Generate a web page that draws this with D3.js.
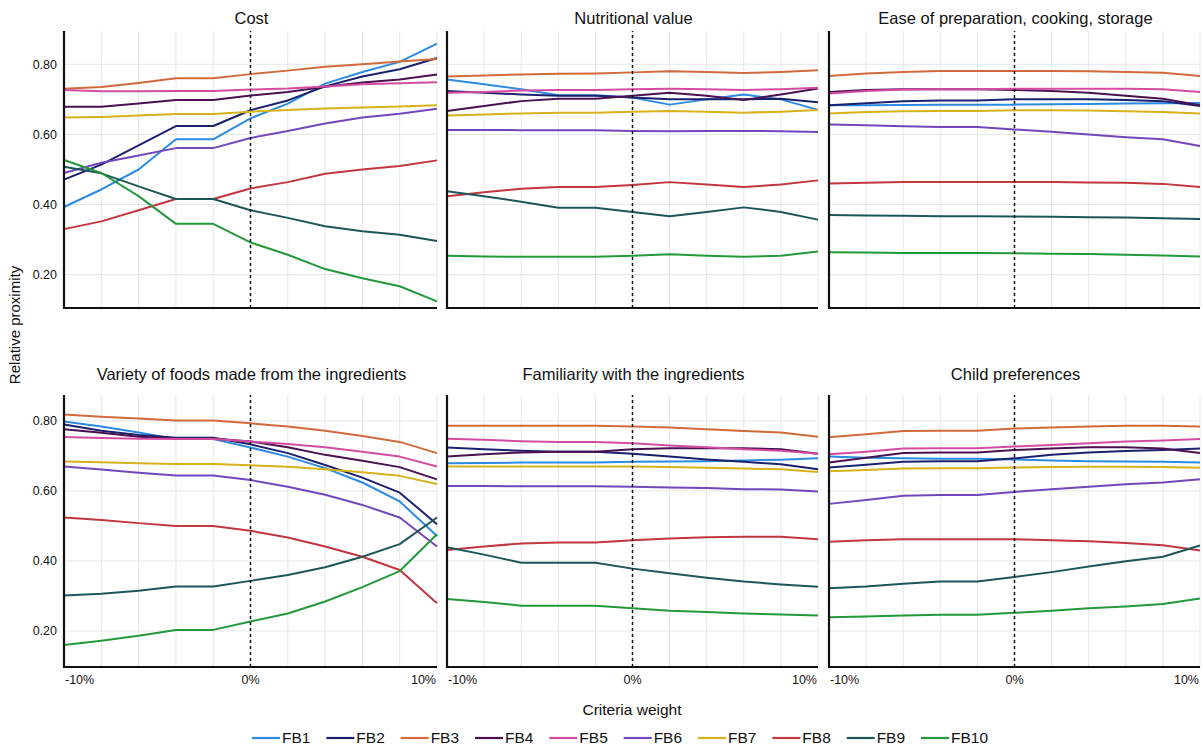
<!DOCTYPE html>
<html><head><meta charset="utf-8">
<script src="https://cdn.jsdelivr.net/npm/d3@7"></script>
<style>
body{margin:0;background:#fff;}
text{font-family:"Liberation Sans",Arial,sans-serif;fill:#111;}
</style></head>
<body><svg id="chart" width="1203" height="749"></svg>
<script>
const weights = [-10,-8,-6,-4,-2,0,2,4,6,8,10];
const series = ["FB1","FB2","FB3","FB4","FB5","FB6","FB7","FB8","FB9","FB10"];
const colors = ["#2b8be0","#1b216e","#d2693b","#4a1152","#d34ca2","#7347bb","#d6b21c","#c1363f","#1d5659","#23993b"];
const titles = ["Cost","Nutritional value","Ease of preparation, cooking, storage",
  "Variety of foods made from the ingredients","Familiarity with the ingredients","Child preferences"];
const xTickLabels = ["-10%","0%","10%"];
const yTicks = [0.2,0.4,0.6,0.8];

// values per criterion, rows FB1..FB10, columns = weights
const cost = [
 [0.393,0.443,0.50,0.586,0.586,0.646,0.688,0.745,0.778,0.807,0.859],
 [0.471,0.514,0.569,0.624,0.624,0.669,0.697,0.737,0.765,0.786,0.818],
 [0.73,0.735,0.747,0.76,0.76,0.772,0.782,0.793,0.80,0.808,0.815],
 [0.679,0.679,0.688,0.698,0.698,0.711,0.721,0.736,0.748,0.757,0.771],
 [0.727,0.723,0.723,0.724,0.724,0.728,0.731,0.737,0.743,0.746,0.749],
 [0.49,0.519,0.54,0.561,0.561,0.59,0.61,0.631,0.648,0.659,0.673],
 [0.648,0.65,0.654,0.658,0.658,0.665,0.67,0.674,0.677,0.68,0.683],
 [0.33,0.352,0.384,0.416,0.416,0.446,0.464,0.488,0.50,0.51,0.526],
 [0.508,0.489,0.452,0.416,0.416,0.384,0.362,0.338,0.324,0.314,0.296],
 [0.527,0.49,0.424,0.345,0.345,0.292,0.257,0.216,0.19,0.167,0.124]
];
const nutrition = [
 [0.757,0.743,0.729,0.712,0.712,0.705,0.685,0.70,0.714,0.70,0.67],
 [0.724,0.719,0.714,0.71,0.71,0.705,0.70,0.70,0.70,0.702,0.692],
 [0.765,0.768,0.771,0.773,0.774,0.777,0.78,0.778,0.775,0.778,0.783],
 [0.667,0.681,0.695,0.702,0.702,0.71,0.719,0.71,0.698,0.714,0.731],
 [0.719,0.721,0.725,0.727,0.727,0.729,0.73,0.729,0.727,0.729,0.733],
 [0.613,0.613,0.612,0.612,0.612,0.61,0.609,0.61,0.61,0.609,0.607],
 [0.654,0.657,0.66,0.662,0.662,0.665,0.667,0.665,0.662,0.665,0.67],
 [0.424,0.435,0.445,0.45,0.45,0.456,0.464,0.457,0.45,0.457,0.469],
 [0.438,0.424,0.408,0.391,0.391,0.379,0.367,0.379,0.392,0.379,0.357],
 [0.254,0.252,0.251,0.251,0.251,0.254,0.258,0.254,0.251,0.254,0.266]
];
const ease = [
 [0.683,0.683,0.684,0.685,0.685,0.685,0.686,0.687,0.688,0.689,0.69],
 [0.683,0.689,0.695,0.697,0.697,0.70,0.70,0.70,0.698,0.695,0.681],
 [0.767,0.774,0.778,0.781,0.781,0.781,0.781,0.78,0.778,0.776,0.767],
 [0.721,0.727,0.729,0.729,0.729,0.727,0.724,0.719,0.71,0.702,0.683],
 [0.717,0.724,0.728,0.729,0.729,0.73,0.73,0.73,0.73,0.729,0.721],
 [0.628,0.626,0.623,0.621,0.621,0.614,0.608,0.60,0.592,0.586,0.567],
 [0.66,0.664,0.666,0.667,0.667,0.669,0.669,0.668,0.666,0.664,0.66],
 [0.46,0.462,0.464,0.464,0.464,0.464,0.464,0.463,0.462,0.459,0.45],
 [0.37,0.369,0.368,0.367,0.367,0.366,0.365,0.364,0.363,0.361,0.359],
 [0.264,0.263,0.262,0.262,0.262,0.261,0.26,0.259,0.257,0.255,0.252]
];
const variety = [
 [0.798,0.784,0.767,0.748,0.748,0.724,0.698,0.665,0.624,0.57,0.471],
 [0.79,0.772,0.76,0.752,0.752,0.733,0.708,0.674,0.638,0.595,0.505],
 [0.818,0.812,0.807,0.801,0.801,0.793,0.784,0.772,0.757,0.74,0.708],
 [0.776,0.766,0.755,0.75,0.75,0.741,0.725,0.703,0.686,0.668,0.633],
 [0.754,0.751,0.749,0.748,0.748,0.741,0.734,0.725,0.712,0.698,0.67],
 [0.67,0.661,0.652,0.644,0.644,0.631,0.612,0.589,0.56,0.524,0.441],
 [0.684,0.682,0.679,0.677,0.677,0.673,0.669,0.662,0.653,0.643,0.62],
 [0.524,0.517,0.508,0.50,0.50,0.486,0.467,0.441,0.412,0.374,0.279],
 [0.301,0.306,0.315,0.327,0.327,0.343,0.36,0.382,0.412,0.448,0.524],
 [0.16,0.172,0.186,0.203,0.203,0.227,0.25,0.284,0.325,0.371,0.476]
];
const familiarity = [
 [0.679,0.68,0.681,0.681,0.681,0.683,0.684,0.685,0.687,0.689,0.693],
 [0.724,0.719,0.715,0.712,0.712,0.706,0.698,0.69,0.683,0.676,0.662],
 [0.786,0.786,0.786,0.786,0.786,0.784,0.781,0.776,0.771,0.767,0.755],
 [0.698,0.705,0.71,0.712,0.712,0.719,0.722,0.722,0.722,0.719,0.706],
 [0.749,0.746,0.742,0.74,0.74,0.736,0.73,0.725,0.719,0.715,0.706],
 [0.614,0.614,0.613,0.613,0.613,0.612,0.61,0.608,0.605,0.604,0.598],
 [0.67,0.67,0.67,0.67,0.67,0.67,0.668,0.666,0.664,0.662,0.654],
 [0.431,0.441,0.45,0.453,0.453,0.459,0.464,0.468,0.469,0.469,0.462],
 [0.439,0.418,0.395,0.395,0.395,0.378,0.365,0.352,0.341,0.333,0.326],
 [0.291,0.283,0.272,0.272,0.272,0.265,0.258,0.254,0.25,0.247,0.244]
];
const child = [
 [0.698,0.695,0.693,0.692,0.692,0.69,0.687,0.685,0.684,0.683,0.681],
 [0.667,0.675,0.683,0.685,0.685,0.693,0.703,0.71,0.714,0.717,0.721],
 [0.753,0.762,0.771,0.772,0.772,0.778,0.781,0.784,0.786,0.786,0.784],
 [0.681,0.695,0.708,0.71,0.71,0.717,0.721,0.725,0.725,0.721,0.708],
 [0.705,0.712,0.721,0.722,0.722,0.727,0.731,0.736,0.741,0.744,0.748],
 [0.563,0.574,0.586,0.588,0.588,0.597,0.605,0.612,0.619,0.624,0.633],
 [0.656,0.66,0.664,0.665,0.665,0.667,0.668,0.669,0.669,0.668,0.666],
 [0.455,0.459,0.462,0.462,0.462,0.462,0.459,0.456,0.451,0.445,0.43],
 [0.322,0.327,0.335,0.341,0.341,0.354,0.368,0.384,0.399,0.412,0.444],
 [0.239,0.241,0.244,0.246,0.246,0.252,0.258,0.265,0.27,0.277,0.293]
];
const panelsData = [cost, nutrition, ease, variety, familiarity, child];

const svg = d3.select("#chart");
const cols = [[64,437],[447,818],[829,1200]];
const rows = [
  {range:[308,31], domain:[0.105,0.895], title:18},
  {range:[667,395], domain:[0.097,0.874], title:374}
];

panelsData.forEach((data, i) => {
  const c = cols[i % 3], r = rows[Math.floor(i / 3)];
  const x = d3.scaleLinear().domain([-10,10]).range(c);
  const y = d3.scaleLinear().domain(r.domain).range(r.range);
  const g = svg.append("g");
  // grid
  g.selectAll(".vg").data(weights).join("line")
    .attr("x1", d => x(d)).attr("x2", d => x(d))
    .attr("y1", r.range[0]).attr("y2", r.range[1])
    .attr("stroke", "#e6e6e6").attr("stroke-width", 1);
  g.selectAll(".hg").data(yTicks).join("line")
    .attr("x1", c[0]).attr("x2", c[1])
    .attr("y1", d => y(d)).attr("y2", d => y(d))
    .attr("stroke", "#e6e6e6").attr("stroke-width", 1);
  // y axis labels only on first column
  if (i % 3 === 0) {
    const ax = d3.axisLeft(y).tickValues(yTicks).tickFormat(d3.format(".2f")).tickSize(0).tickPadding(7);
    const ga = g.append("g").attr("transform", `translate(${c[0]},0)`).call(ax);
    ga.select(".domain").remove();
    ga.selectAll("text").attr("font-size", 12.5).attr("fill", "#111")
      .attr("font-family", '"Liberation Sans",Arial,sans-serif');
  }
  // lines
  const line = d3.line().x((d, j) => x(weights[j])).y(d => y(d));
  g.selectAll(".ln").data(data).join("path")
    .attr("d", d => line(d)).attr("fill", "none")
    .attr("stroke", (d, k) => colors[k]).attr("stroke-width", 2)
    .attr("stroke-linejoin", "round");
  // dashed zero line
  g.append("line").attr("x1", x(0)).attr("x2", x(0))
    .attr("y1", r.range[0]).attr("y2", r.range[1])
    .attr("stroke", "#111").attr("stroke-width", 1.5).attr("stroke-dasharray", "3,3");
  // axes lines
  g.append("line").attr("x1", c[0]).attr("x2", c[0]).attr("y1", r.range[0] + 1).attr("y2", r.range[1])
    .attr("stroke", "#111").attr("stroke-width", 2.2);
  g.append("line").attr("x1", c[0] - 1).attr("x2", c[1]).attr("y1", r.range[0]).attr("y2", r.range[0])
    .attr("stroke", "#111").attr("stroke-width", 2.2);
  // title
  g.append("text").attr("x", (c[0] + c[1]) / 2 + 1).attr("y", r.title).attr("dy", "0.35em")
    .attr("text-anchor", "middle").attr("font-size", 16.5).text(titles[i]);
  // x tick labels bottom row
  if (i >= 3) {
    const anchors = ["start", "middle", "end"];
    [-10, 0, 10].forEach((v, k) => {
      g.append("text").attr("x", x(v) + (k === 0 ? 1 : k === 2 ? -1 : 0)).attr("y", 680).attr("dy", "0.35em")
        .attr("text-anchor", anchors[k]).attr("font-size", 12.5).text(xTickLabels[k]);
    });
  }
});

// axis titles
svg.append("text").attr("transform", "translate(15,325) rotate(-90)").attr("text-anchor", "middle")
  .attr("dy", "0.35em").attr("font-size", 15).text("Relative proximity");
svg.append("text").attr("x", 632).attr("y", 710).attr("dy", "0.35em").attr("text-anchor", "middle")
  .attr("font-size", 15.5).text("Criteria weight");

// legend
const lg = svg.append("g");
const legendX = d3.scalePoint().domain(series).range([252, 921]);
series.forEach((s, k) => {
  const gx = legendX(s);
  lg.append("line").attr("x1", gx).attr("x2", gx + 28).attr("y1", 738).attr("y2", 738)
    .attr("stroke", colors[k]).attr("stroke-width", 2.2);
  lg.append("text").attr("x", gx + 30).attr("y", 738).attr("dy", "0.35em").attr("font-size", 15.5).text(s);
});
</script></body></html>
